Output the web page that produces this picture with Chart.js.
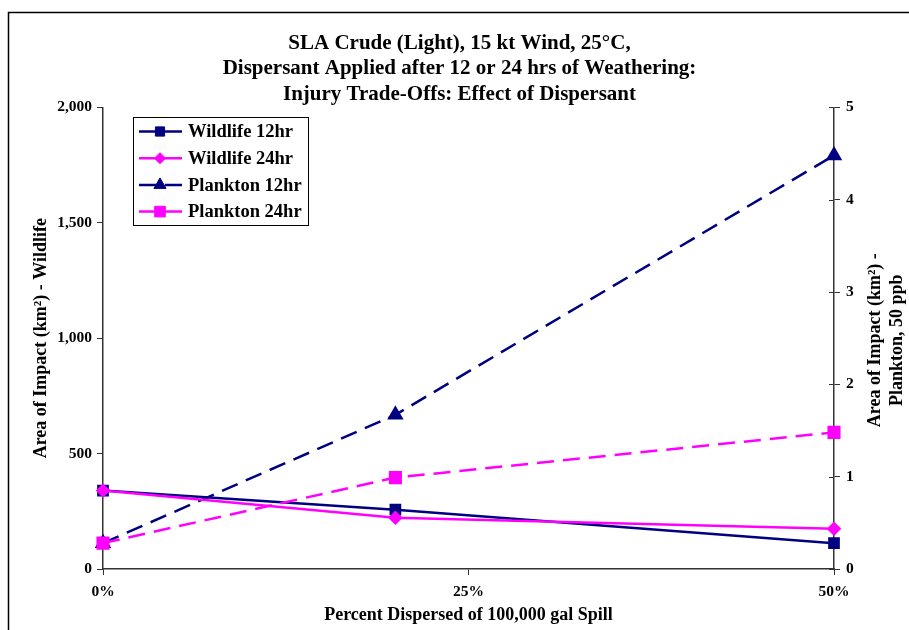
<!DOCTYPE html>
<html>
<head>
<meta charset="utf-8">
<script src="https://cdn.jsdelivr.net/npm/chart.js@4.4.0/dist/chart.umd.min.js"></script>
<style>
  html, body { margin: 0; padding: 0; background: #fff; }
  #wrap { width: 909px; height: 630px; }
</style>
</head>
<body>
<div id="wrap"><canvas id="chart" width="909" height="630"></canvas></div>
<script>
// data
const percents = [0, 20, 50];
const wildlife12 = [340, 257, 112];
const wildlife24 = [340, 222, 174];
const plankton12 = [0.28, 1.67, 4.48];
const plankton24 = [0.28, 0.99, 1.48];
const xTickValues = [0, 25, 50];
const seriesNames = ['Wildlife 12hr', 'Wildlife 24hr', 'Plankton 12hr', 'Plankton 24hr'];
const titleLines = [
    'SLA Crude (Light), 15 kt Wind, 25°C,',
    'Dispersant Applied after 12 or 24 hrs of Weathering:',
    'Injury Trade-Offs: Effect of Dispersant'
];
const rightTitle = ['Area of Impact (km²) -', 'Plankton, 50 ppb'];

const NAVY = '#000080';
const MAGENTA = '#FF00FF';
const SERIF = "'Liberation Serif', 'Times New Roman', serif";

function toPoints(values) {
    return values.map((v, i) => ({ x: percents[i], y: v }));
}

// white background + outer frame
const framePlugin = {
    id: 'frame',
    beforeDraw(chart) {
        const ctx = chart.ctx;
        ctx.save();
        ctx.fillStyle = '#fff';
        ctx.fillRect(0, 0, chart.width, chart.height);
        ctx.strokeStyle = '#000';
        ctx.lineWidth = 1.5;
        ctx.strokeRect(8.5, 12.5, chart.width + 20, chart.height + 20);
        ctx.restore();
    }
};

// right axis: ticks cross the line, title reads bottom-to-top
const rightAxisPlugin = {
    id: 'rightAxis',
    afterDraw(chart) {
        const ctx = chart.ctx;
        const area = chart.chartArea;
        const scale = chart.scales.y1;
        ctx.save();
        ctx.strokeStyle = '#333';
        ctx.lineWidth = 1;
        scale.ticks.forEach(t => {
            const py = Math.round(scale.getPixelForValue(t.value)) + 0.5;
            ctx.beginPath();
            ctx.moveTo(area.right - 5, py);
            ctx.lineTo(area.right, py);
            ctx.stroke();
        });
        ctx.translate(886, (area.top + area.bottom) / 2 + 2);
        ctx.rotate(-Math.PI / 2);
        ctx.fillStyle = '#000';
        ctx.font = 'bold 18px ' + SERIF;
        ctx.textAlign = 'center';
        ctx.textBaseline = 'middle';
        ctx.fillText(rightTitle[0], 0, -11);
        ctx.fillText(rightTitle[1], 0, 11);
        ctx.restore();
    }
};

// boxed legend with line + marker samples
const boxLegendPlugin = {
    id: 'boxLegend',
    afterDraw(chart) {
        const ctx = chart.ctx;
        const x0 = 133, y0 = 117, w = 175, h = 108;
        ctx.save();
        ctx.fillStyle = '#fff';
        ctx.fillRect(x0, y0, w, h);
        ctx.strokeStyle = '#000';
        ctx.lineWidth = 1;
        ctx.strokeRect(x0 + 0.5, y0 + 0.5, w, h);
        chart.data.datasets.forEach((ds, i) => {
            const y = y0 + 14.5 + i * 26.7;
            ctx.strokeStyle = ds.borderColor;
            ctx.lineWidth = ds.borderWidth;
            ctx.setLineDash(ds.borderDash || []);
            ctx.beginPath();
            ctx.moveTo(139, y);
            ctx.lineTo(182, y);
            ctx.stroke();
            ctx.setLineDash([]);
            ctx.fillStyle = ds.pointBackgroundColor;
            ctx.strokeStyle = ds.pointBorderColor;
            ctx.lineWidth = 1;
            Chart.helpers.drawPoint(ctx, {
                pointStyle: ds.pointStyle,
                radius: ds.pointRadius,
                borderWidth: 1,
                rotation: 0
            }, 160, y);
            ctx.fillStyle = '#000';
            ctx.font = 'bold 18.5px ' + SERIF;
            ctx.textAlign = 'left';
            ctx.textBaseline = 'middle';
            ctx.fillText(ds.label, 188, y + 1);
        });
        ctx.restore();
    }
};

const ctx = document.getElementById('chart').getContext('2d');

new Chart(ctx, {
    type: 'line',
    data: {
        datasets: [
            {
                label: seriesNames[0],
                data: toPoints(wildlife12),
                yAxisID: 'y',
                borderColor: NAVY,
                borderWidth: 2.5,
                pointStyle: 'rect',
                pointRadius: 6.5,
                pointBackgroundColor: NAVY,
                pointBorderColor: NAVY,
                order: 3
            },
            {
                label: seriesNames[1],
                data: toPoints(wildlife24),
                yAxisID: 'y',
                borderColor: MAGENTA,
                borderWidth: 2.5,
                pointStyle: 'rectRot',
                pointRadius: 5.5,
                pointBackgroundColor: MAGENTA,
                pointBorderColor: MAGENTA,
                order: 1
            },
            {
                label: seriesNames[2],
                data: toPoints(plankton12),
                yAxisID: 'y1',
                borderColor: NAVY,
                borderWidth: 2.5,
                borderDash: [17, 9],
                pointStyle: 'triangle',
                pointRadius: 7,
                pointBackgroundColor: NAVY,
                pointBorderColor: NAVY,
                order: 4
            },
            {
                label: seriesNames[3],
                data: toPoints(plankton24),
                yAxisID: 'y1',
                borderColor: MAGENTA,
                borderWidth: 2.5,
                borderDash: [17, 9],
                pointStyle: 'rect',
                pointRadius: 7.5,
                pointBackgroundColor: MAGENTA,
                pointBorderColor: MAGENTA,
                order: 2
            }
        ]
    },
    options: {
        responsive: false,
        animation: false,
        devicePixelRatio: 1,
        clip: false,
        elements: { line: { tension: 0 } },
        layout: { padding: { top: 0, left: 10, right: 0, bottom: 0 } },
        plugins: {
            legend: { display: false },
            tooltip: { enabled: false },
            title: {
                display: true,
                text: titleLines,
                color: '#000',
                font: { family: SERIF, size: 21, weight: 'bold', lineHeight: 1.205 },
                padding: { top: 31, bottom: 0.5 }
            }
        },
        scales: {
            x: {
                type: 'linear',
                min: 0,
                max: 50,
                afterBuildTicks: scale => { scale.ticks = xTickValues.map(v => ({ value: v })); },
                afterFit: scale => { scale.height = 61; },
                ticks: {
                    color: '#000',
                    font: { family: SERIF, size: 15.5, weight: 'bold' },
                    padding: 8,
                    maxRotation: 0,
                    callback: v => v + '%'
                },
                grid: { drawOnChartArea: false, drawTicks: true, tickLength: 6, color: '#333' },
                border: { color: '#333', width: 1.5 },
                title: {
                    display: true,
                    text: 'Percent Dispersed of 100,000 gal Spill',
                    color: '#000',
                    font: { family: SERIF, size: 18, weight: 'bold' },
                    padding: { top: 0, bottom: 4 }
                }
            },
            y: {
                position: 'left',
                min: 0,
                max: 2000,
                afterFit: scale => { scale.width = 93; },
                ticks: {
                    stepSize: 500,
                    color: '#000',
                    font: { family: SERIF, size: 15.5, weight: 'bold' },
                    padding: 5,
                    callback: v => v.toLocaleString('en-US')
                },
                grid: { drawOnChartArea: false, drawTicks: true, tickLength: 6, color: '#333' },
                border: { color: '#333', width: 1.5 },
                title: {
                    display: true,
                    text: 'Area of Impact (km²) - Wildlife',
                    color: '#000',
                    font: { family: SERIF, size: 18, weight: 'bold' },
                    padding: { top: 21, bottom: 0 }
                }
            },
            y1: {
                position: 'right',
                min: 0,
                max: 5,
                afterFit: scale => { scale.width = 75; },
                ticks: {
                    stepSize: 1,
                    color: '#000',
                    font: { family: SERIF, size: 15.5, weight: 'bold' },
                    padding: 6
                },
                grid: { drawOnChartArea: false, drawTicks: true, tickLength: 6, color: '#333' },
                border: { color: '#333', width: 1.5 }
            }
        }
    },
    plugins: [framePlugin, rightAxisPlugin, boxLegendPlugin]
});
</script>
</body>
</html>
